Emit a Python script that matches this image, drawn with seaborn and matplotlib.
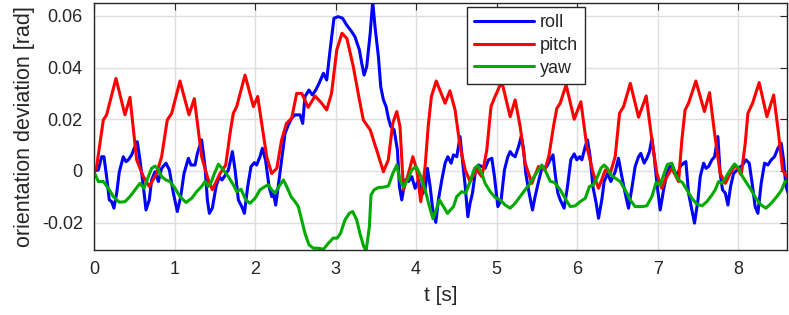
import numpy as np
import pandas as pd
import seaborn as sns
import matplotlib.pyplot as plt

# orientation deviation traces (time [s], value [rad])
t_roll = [0.0, 0.054, 0.095, 0.124, 0.157, 0.19, 0.22, 0.248, 0.282, 0.315,
          0.364, 0.397, 0.427, 0.468, 0.5, 0.538, 0.571, 0.613, 0.646, 0.687,
          0.716, 0.758, 0.8, 0.84, 0.894, 0.936, 0.986, 1.035, 1.077, 1.118,
          1.172, 1.205, 1.255, 1.284, 1.337, 1.379, 1.408, 1.433, 1.47, 1.516,
          1.557, 1.59, 1.619, 1.669, 1.719, 1.752, 1.793, 1.835, 1.868, 1.909,
          1.95, 1.992, 2.02, 2.062, 2.091, 2.13, 2.174, 2.207, 2.228, 2.257,
          2.298, 2.34, 2.373, 2.414, 2.455, 2.497, 2.559, 2.592, 2.62, 2.67,
          2.712, 2.754, 2.795, 2.849, 2.89, 2.932, 2.98, 3.033, 3.087, 3.137,
          3.186, 3.24, 3.296, 3.325, 3.354, 3.387, 3.43, 3.461, 3.49, 3.532,
          3.561, 3.594, 3.627, 3.656, 3.685, 3.727, 3.768, 3.793, 3.822, 3.864,
          3.905, 3.946, 3.988, 4.03, 4.07, 4.112, 4.141, 4.174, 4.207, 4.245,
          4.277, 4.319, 4.36, 4.394, 4.435, 4.464, 4.505, 4.546, 4.575, 4.61,
          4.642, 4.67, 4.7, 4.733, 4.774, 4.816, 4.857, 4.899, 4.94, 4.973,
          5.015, 5.056, 5.097, 5.139, 5.168, 5.197, 5.23, 5.272, 5.305, 5.333,
          5.362, 5.404, 5.445, 5.478, 5.52, 5.561, 5.623, 5.665, 5.70, 5.73,
          5.76, 5.79, 5.838, 5.88, 5.921, 5.963, 5.995, 6.03, 6.058, 6.1,
          6.128, 6.161, 6.195, 6.236, 6.265, 6.306, 6.335, 6.377, 6.418, 6.472,
          6.513, 6.555, 6.596, 6.637, 6.679, 6.72, 6.762, 6.79, 6.832, 6.865,
          6.898, 6.928, 6.957, 6.99, 7.031, 7.073, 7.114, 7.15, 7.176, 7.24,
          7.28, 7.32, 7.35, 7.383, 7.416, 7.457, 7.5, 7.528, 7.57, 7.6,
          7.632, 7.673, 7.706, 7.747, 7.776, 7.805, 7.84, 7.872, 7.905, 7.942,
          8.004, 8.054, 8.095, 8.137, 8.178, 8.21, 8.244, 8.285, 8.327, 8.368,
          8.41, 8.45, 8.493, 8.534, 8.563, 8.592, 8.62]
roll = [0.0, 0.0004, 0.0055, 0.0055, -0.0022, -0.0112, -0.0119, -0.0144, -0.0086, -0.0003,
        0.0055, 0.0036, 0.0043, 0.0062, 0.0088, 0.0113, 0.0043, -0.006, -0.0151, -0.0112,
        -0.0035, -0.0003, -0.0041, 0.001, 0.003, 0.0004, -0.0086, -0.0157, -0.0099, -0.001,
        0.0049, 0.0023, 0.0023, 0.0068, 0.012, 0.0017, -0.0112, -0.0164, -0.0144, -0.006,
        -0.0022, -0.0035, -0.0022, 0.0004, 0.0075, 0.0004, -0.0112, -0.0138, -0.0164, -0.006,
        0.0017, 0.0032, 0.0023, 0.0055, 0.0088, 0.0043, -0.006, -0.0099, -0.0086, -0.0132,
        -0.0035, 0.0068, 0.0146, 0.0178, 0.0204, 0.0217, 0.0217, 0.0184, 0.0288, 0.0313,
        0.0294, 0.0313, 0.0339, 0.0378, 0.0352, 0.0468, 0.0591, 0.0597, 0.0591, 0.0565,
        0.0545, 0.052, 0.0468, 0.0416, 0.0371, 0.0404, 0.0533, 0.0655, 0.0558, 0.0442,
        0.0326, 0.0275, 0.0249, 0.0204, 0.0172, 0.0159, 0.0081, -0.006, -0.0112, -0.0035,
        -0.0041, -0.0022, -0.0067, -0.0035, -0.0093, -0.0073, 0.001, -0.006, -0.0151, -0.0199,
        -0.0112, -0.0035, 0.003, 0.0055, 0.003, 0.0062, 0.0055, 0.0133, 0.0043, -0.006,
        -0.0177, -0.0125, -0.0086, -0.001, 0.0023, 0.0017, 0.001, 0.0043, 0.0049, -0.0022,
        -0.0138, -0.0112, 0.0004, 0.0055, 0.0075, 0.0062, 0.0055, 0.0094, 0.0133, 0.0088,
        -0.001, -0.0086, -0.0151, -0.0099, -0.0041, 0.001, 0.0017, 0.0043, 0.0062, -0.002,
        -0.0086, -0.0112, -0.0144, -0.006, 0.0043, 0.0066, 0.0043, 0.0055, 0.0043, 0.0094,
        0.012, 0.0055, -0.006, -0.0125, -0.0183, -0.0112, -0.0041, -0.001, -0.0041, -0.0003,
        0.0049, -0.0022, -0.0086, -0.0144, -0.0067, 0.0017, 0.0055, 0.0068, 0.003, 0.0049,
        0.0075, 0.0126, 0.0055, -0.0048, -0.0151, -0.0073, -0.001, 0.0017, 0.0023, -0.0022,
        0.0017, 0.003, 0.0036, -0.0086, -0.0138, -0.0202, -0.0112, -0.0022, 0.003, 0.001,
        0.0017, 0.0043, 0.0055, 0.0133, -0.001, -0.0073, -0.0086, -0.0132, -0.006, -0.001,
        0.001, 0.0023, 0.0043, 0.003, -0.006, -0.0138, -0.0164, -0.0048, 0.003, 0.0023,
        0.0043, 0.0055, 0.0088, 0.0107, 0.0043, -0.006, -0.0086]

t_pitch = [0.0, 0.03, 0.116, 0.157, 0.273, 0.385, 0.447, 0.53, 0.613, 0.687,
           0.778, 0.84, 0.91, 0.965, 1.068, 1.18, 1.246, 1.337, 1.42, 1.47,
           1.565, 1.636, 1.69, 1.73, 1.772, 1.876, 1.98, 2.033, 2.083, 2.145,
           2.207, 2.27, 2.33, 2.39, 2.455, 2.517, 2.58, 2.66, 2.745, 2.82,
           2.89, 2.95, 3.015, 3.08, 3.14, 3.22, 3.296, 3.345, 3.43, 3.51,
           3.594, 3.655, 3.71, 3.76, 3.8, 3.843, 3.905, 3.96, 4.008, 4.058,
           4.112, 4.15, 4.19, 4.25, 4.36, 4.42, 4.484, 4.546, 4.61, 4.67,
           4.753, 4.816, 4.878, 4.93, 4.98, 5.064, 5.168, 5.23, 5.292, 5.354,
           5.437, 5.52, 5.6, 5.65, 5.706, 5.747, 5.789, 5.863, 5.963, 6.046,
           6.12, 6.2, 6.265, 6.35, 6.41, 6.472, 6.526, 6.576, 6.66, 6.762,
           6.857, 6.928, 6.99, 7.05, 7.1, 7.176, 7.259, 7.3, 7.34, 7.383,
           7.474, 7.58, 7.644, 7.706, 7.776, 7.84, 7.9, 7.963, 8.037, 8.087,
           8.12, 8.178, 8.26, 8.356, 8.44, 8.5, 8.55, 8.6]
pitch = [-0.0005, 0.001, 0.0197, 0.0217, 0.0358, 0.0217, 0.0285, 0.0043, -0.0022, -0.006,
         -0.001, 0.0055, 0.0197, 0.0223, 0.0348, 0.0217, 0.028, 0.0055, -0.0035, -0.0073,
         -0.001, 0.0023, 0.0146, 0.0223, 0.0249, 0.0371, 0.0249, 0.0288, 0.0184, 0.0055,
         -0.001, 0.001, 0.012, 0.0184, 0.0204, 0.030, 0.030, 0.0246, 0.029, 0.0265,
         0.0236, 0.030, 0.0468, 0.0533, 0.0513, 0.0404, 0.0275, 0.0197, 0.0159, 0.0081,
         -0.0003, 0.0043, 0.0184, 0.023, 0.0172, -0.0073, -0.001, 0.0055, 0.0004, -0.0119,
         0.0017, 0.0172, 0.0288, 0.0348, 0.0262, 0.031, 0.0236, 0.0094, 0.0004, -0.0041,
         0.0004, -0.0022, 0.0081, 0.0249, 0.0288, 0.0346, 0.021, 0.0275, 0.0172, 0.003,
         -0.0048, 0.0017, 0.0004, 0.006, 0.0172, 0.0242, 0.0262, 0.0333, 0.02, 0.0268,
         0.0094, -0.001, -0.0067, 0.0004, -0.001, 0.0055, 0.0223, 0.0249, 0.0339, 0.0208,
         0.029, 0.012, -0.001, -0.0067, -0.003, 0.001, -0.0041, 0.012, 0.0236, 0.0262,
         0.0348, 0.023, 0.0303, 0.0146, -0.001, -0.0048, -0.001, 0.0023, -0.0015, 0.0107,
         0.0223, 0.0262, 0.0342, 0.021, 0.0294, 0.0146, 0.0004, -0.0022]

t_yaw = [0.0, 0.054, 0.116, 0.178, 0.24, 0.315, 0.385, 0.447, 0.51, 0.571,
         0.621, 0.675, 0.716, 0.758, 0.8, 0.84, 0.894, 0.944, 1.006, 1.068,
         1.143, 1.213, 1.275, 1.337, 1.379, 1.42, 1.46, 1.495, 1.545, 1.607,
         1.669, 1.731, 1.772, 1.826, 1.884, 1.938, 2.0, 2.062, 2.124, 2.166,
         2.207, 2.248, 2.298, 2.352, 2.393, 2.447, 2.497, 2.538, 2.58, 2.62,
         2.67, 2.724, 2.786, 2.849, 2.91, 2.97, 3.02, 3.062, 3.116, 3.17,
         3.212, 3.263, 3.302, 3.35, 3.38, 3.42, 3.44, 3.478, 3.532, 3.594,
         3.656, 3.71, 3.76, 3.8, 3.843, 3.893, 3.946, 4.0, 4.05, 4.112,
         4.166, 4.21, 4.25, 4.29, 4.34, 4.39, 4.464, 4.505, 4.567, 4.617,
         4.67, 4.725, 4.766, 4.816, 4.857, 4.92, 4.98, 5.043, 5.106, 5.168,
         5.23, 5.292, 5.354, 5.416, 5.47, 5.52, 5.561, 5.611, 5.665, 5.72,
         5.789, 5.851, 5.913, 5.975, 6.037, 6.1, 6.153, 6.2, 6.253, 6.294,
         6.335, 6.377, 6.418, 6.472, 6.534, 6.596, 6.658, 6.72, 6.803, 6.865,
         6.928, 6.98, 7.031, 7.08, 7.12, 7.176, 7.217, 7.259, 7.308, 7.362,
         7.425, 7.486, 7.55, 7.61, 7.673, 7.714, 7.756, 7.797, 7.84, 7.9,
         7.955, 8.004, 8.054, 8.107, 8.16, 8.22, 8.285, 8.344, 8.41, 8.48,
         8.54, 8.58, 8.62]
yaw = [-0.0003, -0.0041, -0.0041, -0.0067, -0.0099, -0.0121, -0.0119, -0.0099, -0.0073, -0.0048,
       -0.0067, -0.0022, 0.001, 0.0019, 0.0004, -0.0022, -0.0035, -0.0041, -0.0067, -0.0099,
       -0.0122, -0.0106, -0.008, -0.006, -0.0041, -0.006, -0.004, -0.001, 0.0026, 0.0004,
       -0.0022, -0.0054, -0.008, -0.0071, -0.0112, -0.0125, -0.0106, -0.0073, -0.006, -0.0054,
       -0.0073, -0.0086, -0.006, -0.0035, -0.006, -0.0099, -0.0119, -0.0138, -0.019, -0.0241,
       -0.0286, -0.0299, -0.0299, -0.0303, -0.028, -0.026, -0.026, -0.0241, -0.019, -0.0164,
       -0.0157, -0.019, -0.0241, -0.0293, -0.0308, -0.0215, -0.0093, -0.0073, -0.0064, -0.0063,
       -0.0058, -0.001, 0.0023, -0.0035, -0.0063, -0.0035, 0.0004, 0.0017, -0.0015, -0.0073,
       -0.0138, -0.0185, -0.015, -0.0112, -0.0138, -0.0164, -0.0138, -0.0099, -0.008, -0.0086,
       -0.0041, 0.001, 0.0021, -0.001, -0.0048, -0.008, -0.0102, -0.0112, -0.0132, -0.0144,
       -0.0125, -0.0099, -0.0073, -0.0048, -0.0019, 0.0004, 0.0023, -0.0003, -0.004, -0.0045,
       -0.0073, -0.0106, -0.0138, -0.0135, -0.0119, -0.0106, -0.006, -0.0054, -0.0022, 0.001,
       0.0023, 0.001, -0.0015, -0.0028, -0.0041, -0.0073, -0.0112, -0.0138, -0.0138, -0.0135,
       -0.0099, -0.0045, -0.0054, -0.001, 0.0025, 0.003, -0.001, -0.0035, -0.0045, -0.0073,
       -0.0106, -0.0128, -0.0135, -0.0119, -0.0093, -0.0073, -0.0041, -0.0048, -0.0028, 0.0004,
       0.0027, 0.001, -0.0022, -0.0048, -0.0073, -0.0106, -0.0132, -0.0144, -0.0125, -0.0099,
       -0.0073, -0.0041, -0.0041]

y_ticks = [-0.02, 0, 0.02, 0.04, 0.06]
y_tick_labels = ["-0.02", "0", "0.02", "0.04", "0.06"]
x_ticks = [0, 1, 2, 3, 4, 5, 6, 7, 8]

sns.set_style("white")
plt.rcParams["font.family"] = ["Liberation Sans", "DejaVu Sans"]

fig = plt.figure(figsize=(7.89, 3.15), dpi=100)
ax = fig.add_axes([0.1191, 0.2063, 0.8778, 0.7851])

series = [("roll", t_roll, roll, "#0000FF"),
          ("pitch", t_pitch, pitch, "#FF0000"),
          ("yaw", t_yaw, yaw, "#00AA00")]
for name, t, v, col in series:
    df = pd.DataFrame({"t": t, "v": v})
    sns.lineplot(data=df, x="t", y="v", ax=ax, color=col, lw=2.2,
                 label=name, sort=False, estimator=None)

ax.set_xlim(0, 8.6)
ax.set_ylim(-0.0306, 0.0651)
ax.set_xticks(x_ticks)
ax.set_xticklabels([str(x) for x in x_ticks])
ax.set_yticks(y_ticks)
ax.set_yticklabels(y_tick_labels)
ax.grid(True, color="#dedede", lw=1.0)
ax.set_axisbelow(True)
for s in ax.spines.values():
    s.set_color("#262626")
    s.set_linewidth(1.0)
    s.set_visible(True)
ax.tick_params(direction="in", length=5, width=0.8, color="#262626",
               top=True, right=True, labelsize=13, labelcolor="#262626", pad=8)
ax.set_xlabel("t [s]", fontsize=15, color="#262626", labelpad=6)
ax.set_ylabel("orientation deviation [rad]", fontsize=15.5, color="#262626", labelpad=5)

leg = ax.legend(loc="upper left", bbox_to_anchor=(0.5386, 0.983), borderaxespad=0,
                fontsize=13, handlelength=3.3, handletextpad=0.35,
                labelspacing=0.32, borderpad=0.4, fancybox=False, framealpha=1)
leg.get_frame().set_edgecolor("#262626")
leg.get_frame().set_linewidth(1.0)

fig.savefig("out.png", dpi=100)
